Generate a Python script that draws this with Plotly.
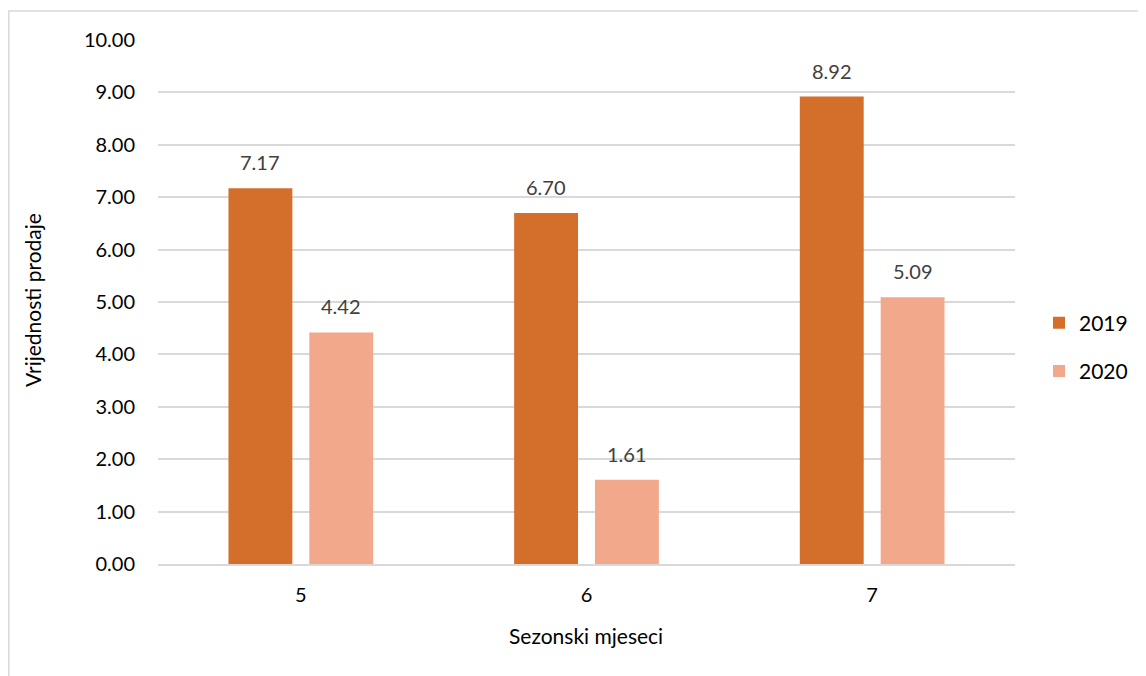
import plotly.graph_objects as go

categories = ["5", "6", "7"]
values_2019 = [7.17, 6.70, 8.92]
values_2020 = [4.42, 1.61, 5.09]
series_names = ["2019", "2020"]
y_ticks = [0, 1, 2, 3, 4, 5, 6, 7, 8, 9, 10]

W, H = 1146, 676
OFF = 8  # page body margin
ml, mt = 158 - OFF, 40 - OFF
pw, ph = 857, 524
mr = W - ml - pw
mb = H - mt - ph


def px_x(sx):
    return (sx - OFF - ml) / pw


def px_y(sy):
    return (H - mb - (sy - OFF)) / ph


font_family = "Lato, Open Sans, sans-serif"
colors = ["#D46F2B", "#F2A88A"]

fig = go.Figure()
for name, vals, col in zip(series_names, [values_2019, values_2020], colors):
    fig.add_trace(go.Bar(
        x=categories, y=vals, name=name, legendgroup=name,
        marker=dict(color=col, line=dict(width=0)),
    ))

# data labels above bars (x given as category index)
shift = [-40.5, 40.5]
annotations = []
for s, vals in enumerate([values_2019, values_2020]):
    for i, v in enumerate(vals):
        annotations.append(dict(
            x=i, y=v, xref="x", yref="y", text=f"{v:.2f}", showarrow=False,
            xshift=shift[s], yshift=26, yanchor="middle",
            font=dict(size=20, color="#404040", family=font_family)))

# axis titles
annotations.append(dict(x=px_x(586), y=px_y(635), xref="paper", yref="paper",
                        text="Sezonski mjeseci", showarrow=False, xanchor="center", yanchor="middle",
                        font=dict(size=21, color="#000000", family=font_family)))
annotations.append(dict(x=px_x(32), y=px_y(300), xref="paper", yref="paper",
                        text="Vrijednosti prodaje", showarrow=False, textangle=-90,
                        xanchor="center", yanchor="middle",
                        font=dict(size=21, color="#000000", family=font_family)))

fig.update_layout(
    width=W, height=H,
    margin=dict(l=ml, r=mr, t=mt, b=mb, autoexpand=False),
    paper_bgcolor="white", plot_bgcolor="white",
    barmode="group", bargap=0.434, bargroupgap=0.21,
    font=dict(family=font_family, size=20, color="#000000"),
    showlegend=True,
    legend=dict(x=px_x(1039), y=px_y(347), xanchor="left", yanchor="middle",
                font=dict(size=21, color="#000000"), traceorder="grouped",
                tracegroupgap=18, itemsizing="constant"),
    annotations=annotations,
    xaxis=dict(
        type="category", range=[-0.5, len(categories) - 0.5],
        showgrid=False, showline=True, linecolor="#D9D9D9", linewidth=1.5,
        ticks="", tickfont=dict(size=20), ticklabelstandoff=12,
    ),
    yaxis=dict(
        range=[0, 10], tickvals=y_ticks,
        ticktext=[f"{v:.2f}" for v in y_ticks],
        showgrid=True, gridcolor="#D9D9D9", gridwidth=1.5,
        zeroline=False, showline=False, ticks="", ticklabelstandoff=22,
        tickfont=dict(size=20),
    ),
)

# outer chart border
fig.add_shape(type="rect", xref="paper", yref="paper",
              x0=px_x(8.8), x1=px_x(W + 20),
              y0=px_y(H + 20), y1=px_y(11),
              line=dict(color="#D9D9D9", width=1.5), fillcolor="rgba(0,0,0,0)",
              layer="below")

fig.write_html("out.html")
